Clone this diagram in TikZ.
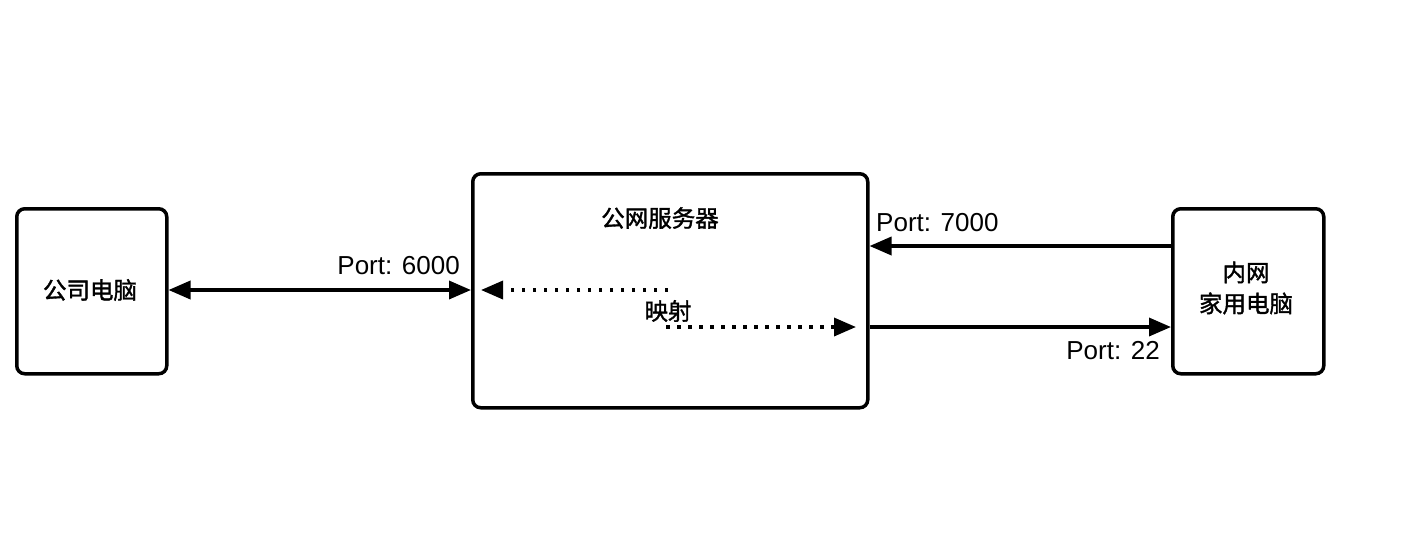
\documentclass[tikz,border=0pt]{standalone}
\usepackage{fontspec}
\setmainfont{Liberation Sans}
\newfontfamily\cjk[FakeBold=1.5]{Noto Sans CJK SC}
\usetikzlibrary{arrows.meta}
\begin{document}
\begin{tikzpicture}[x=1pt,y=-1pt,
  tip/.style={Triangle[length=22pt,width=18pt]},
  box/.style={draw, line width=3.5pt, rounded corners=8pt},
  conn/.style={line width=3.5pt, -{Triangle[length=22pt,width=18pt]}},
  dconn/.style={line width=3.5pt, dash pattern=on 3.5pt off 7.5pt, -{Triangle[length=22pt,width=18pt]}},
  lbl/.style={font=\fontsize{26}{30}\selectfont, inner sep=0pt},
  clbl/.style={font=\cjk\fontsize{23.5}{31}\selectfont, inner sep=0pt, align=center}]
\useasboundingbox (0,0) rectangle (1412,550);
\node[box, minimum width=150pt, minimum height=165pt, anchor=north west] (pc) at (15,207) {};
\node[box, minimum width=395pt, minimum height=234pt, anchor=north west] (srv) at (471,172) {};
\node[box, minimum width=151pt, minimum height=165pt, anchor=north west] (home) at (1171,207) {};
\node[clbl] (pct) at (90,290) {公司电脑};
\node[clbl] (srvt) at (660,218) {公网服务器};
\node[clbl] (homet) at (1246,288) {内网\\家用电脑};
% left double arrow
\coordinate (a1) at (pc.east |- 0,290);
\coordinate (a2) at (srv.west |- 0,290);
\draw[line width=3.5pt, {Triangle[length=22pt,width=18pt]}-{Triangle[length=22pt,width=18pt]}] (a1) -- (a2);
\node[lbl, anchor=south east] (p6000) at (460,275) {Port: 6000};
% dotted mapping arrows
\coordinate (m1) at (668,290);
\coordinate (m2) at (481,290);
\draw[dconn] (m1) -- (m2);
\node[clbl] (map) at (668,311) {映射};
\coordinate (m3) at (666,327);
\coordinate (m4) at (856,327);
\draw[dconn] (m3) -- (m4);
% right arrows
\coordinate (b1) at (home.west |- 0,246);
\coordinate (b2) at (srv.east |- 0,246);
\draw[conn] (b1) -- (b2);
\node[lbl, anchor=south west] (p7000) at (876,232) {Port: 7000};
\coordinate (c1) at (srv.east |- 0,327);
\coordinate (c2) at (home.west |- 0,327);
\draw[conn] (c1) -- (c2);
\node[lbl, anchor=north east] (p22) at (1160,341) {Port: 22};
\end{tikzpicture}
\end{document}
